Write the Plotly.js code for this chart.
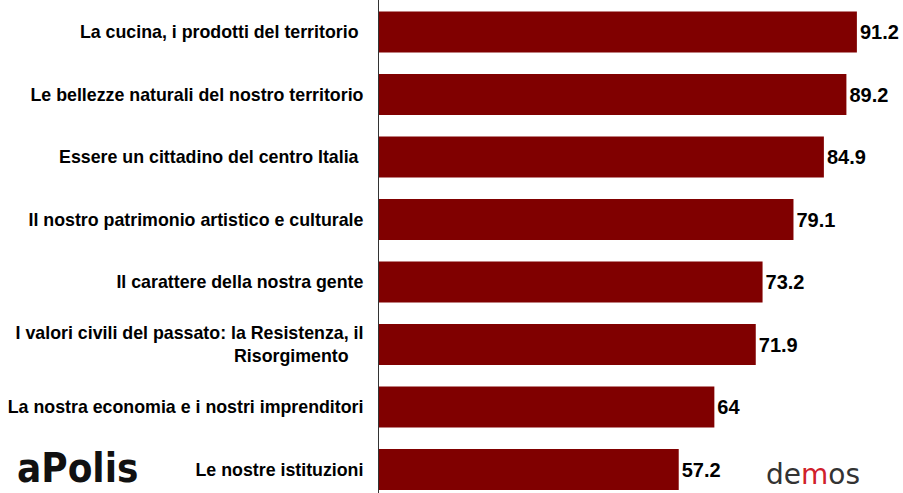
<!DOCTYPE html>
<html>
<head>
<meta charset="utf-8">
<script src="https://cdn.plot.ly/plotly-3.0.1.min.js"></script>
<style>html,body{margin:0;padding:0;background:#fff;}#chart{width:903px;height:493px;}</style>
</head>
<body>
<div id="chart"></div>
<script>
var categories = [
  "La cucina, i prodotti del territorio\u00a0",
  "Le bellezze naturali del nostro territorio",
  "Essere un cittadino del centro Italia\u00a0",
  "Il nostro patrimonio artistico e culturale",
  "Il carattere della nostra gente",
  "I valori civili del passato: la Resistenza, il<br>Risorgimento\u00a0\u00a0\u00a0",
  "La nostra economia e i nostri imprenditori",
  "Le nostre istituzioni"
];
var values = [91.2, 89.2, 84.9, 79.1, 73.2, 71.9, 64, 57.2];
var valueLabels = ["91.2", "89.2", "84.9", "79.1", "73.2", "71.9", "64", "57.2"];

var trace = {
  type: "bar",
  orientation: "h",
  x: values,
  y: categories,
  text: valueLabels,
  textposition: "outside",
  cliponaxis: false,
  textfont: {family: "Liberation Sans, Arial, sans-serif", size: 20, color: "#000", weight: "bold"},
  marker: {color: "#800000", line: {width: 0}},
  width: 0.656,
  hoverinfo: "none"
};

var layout = {
  width: 903,
  height: 493,
  margin: {l: 379, r: 0, t: 0, b: 0, pad: 0},
  paper_bgcolor: "#fff",
  plot_bgcolor: "#fff",
  showlegend: false,
  font: {family: "Liberation Sans, Arial, sans-serif"},
  xaxis: {range: [0, 100], visible: false, fixedrange: true},
  yaxis: {
    type: "category",
    range: [7.376, -0.512],
    showline: true,
    linecolor: "#333",
    linewidth: 1,
    ticks: "",
    showgrid: false,
    zeroline: false,
    ticklabelstandoff: 11,
    tickfont: {family: "Liberation Sans, Arial, sans-serif", size: 17.8, color: "#000", weight: "bold"},
    fixedrange: true
  },
  annotations: [
    {xref: "paper", yref: "paper", x: -0.695, y: 0, xanchor: "left", yanchor: "bottom",
     text: "aPolis", showarrow: false,
     font: {family: "DejaVu Sans Condensed, Liberation Sans Narrow, sans-serif", size: 40, color: "#111", weight: "bold"}},
    {xref: "paper", yref: "paper", x: 0.735, y: 0, xanchor: "left", yanchor: "bottom",
     text: "de<span style='color:#d0202a'>m</span>os", showarrow: false,
     font: {family: "DejaVu Sans, sans-serif", size: 28, color: "#333"}}
  ]
};

Plotly.newPlot("chart", [trace], layout, {staticPlot: true, displayModeBar: false});
</script>
</body>
</html>
